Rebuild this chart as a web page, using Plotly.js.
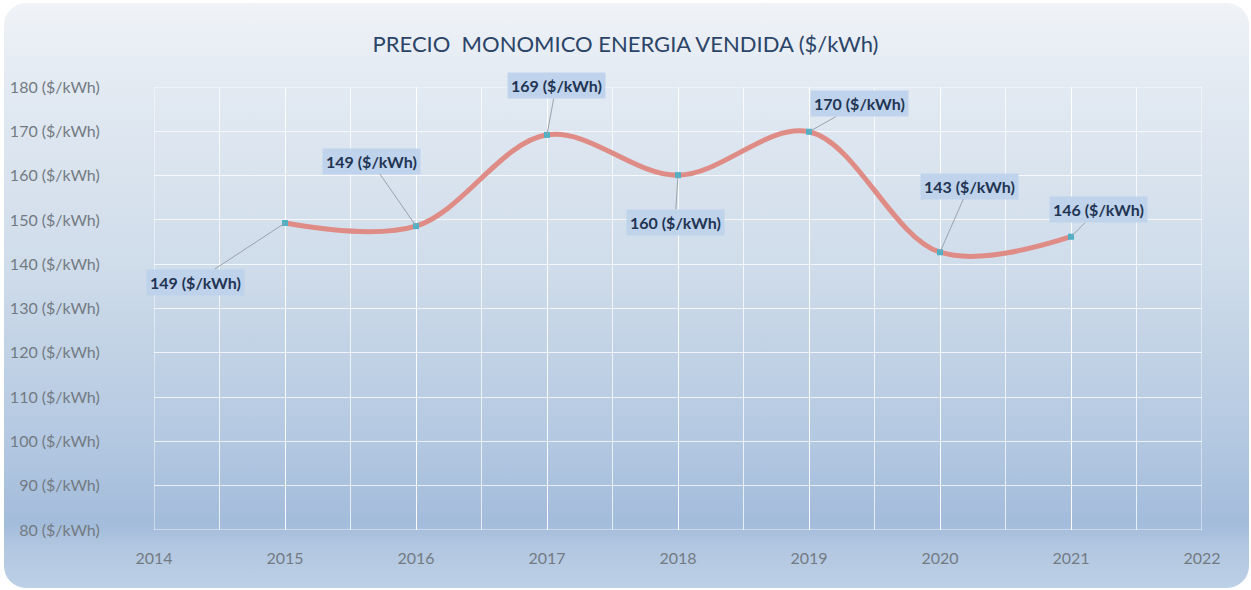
<!DOCTYPE html>
<html>
<head>
<meta charset="utf-8">
<script src="https://cdn.plot.ly/plotly-3.0.1.min.js"></script>
<style>
  html, body { margin: 0; padding: 0; background: #ffffff; }
  #frame {
    position: absolute; left: 4px; top: 3px; width: 1245px; height: 585px;
    border-radius: 22px; overflow: hidden;
    background: linear-gradient(to bottom, #f0f3f7 0%, #e4ebf3 12%, #cfdcea 45%, #b3c8e1 75%, #a3bcdb 89%, #b2c7e0 93%, #bcd0e6 100%);
  }
  #chart { position: absolute; left: 0; top: 0; width: 1251px; height: 590px; }
</style>
</head>
<body>
<div id="frame"></div>
<div id="chart"></div>
<script>
const years = [2015, 2016, 2017, 2018, 2019, 2020, 2021];
const prices = [149.3, 148.6, 169.2, 160.1, 169.9, 142.7, 146.2];
const yTickVals = [80, 90, 100, 110, 120, 130, 140, 150, 160, 170, 180];
const yTickText = yTickVals.map(v => v + ' ($/kWh)');
const xTickVals = [2014, 2015, 2016, 2017, 2018, 2019, 2020, 2021, 2022];
const labelOffsets = [[-90, 59], [-45, -65], [9, -49], [-3, 47], [50, -28], [29, -66], [27, -27]];

const GRID = 'rgba(255,255,255,0.75)';

const trace = {
  x: years, y: prices, type: 'scatter', mode: 'lines+markers',
  line: { shape: 'spline', smoothing: 1.0, color: '#df8c87', width: 5 },
  marker: { symbol: 'square', size: 6, color: '#4fb0c6' },
  hoverinfo: 'x+y'
};

const annotations = years.map((yr, i) => ({
  x: yr, y: prices[i], xref: 'x', yref: 'y',
  text: '<b>' + Math.round(prices[i]) + ' ($/kWh)</b>',
  showarrow: true, arrowhead: 0, arrowwidth: 1, arrowcolor: '#9aa3ad',
  ax: labelOffsets[i][0], ay: labelOffsets[i][1],
  bgcolor: 'rgba(190,210,235,0.95)', borderpad: 3,
  font: { family: 'Lato, "Open Sans", sans-serif', size: 16, color: '#1f3553' }
}));

const edgeShapes = [
  { type: 'line', xref: 'x', yref: 'paper', x0: 2014, x1: 2014, y0: 0, y1: 1 },
  { type: 'line', xref: 'x', yref: 'paper', x0: 2022, x1: 2022, y0: 0, y1: 1 },
  { type: 'line', xref: 'paper', yref: 'y', x0: 0, x1: 1, y0: 80, y1: 80 },
  { type: 'line', xref: 'paper', yref: 'y', x0: 0, x1: 1, y0: 180, y1: 180 }
].map(s => Object.assign(s, { layer: 'below', line: { color: GRID, width: 1.2 } }));

const layout = {
  width: 1251, height: 590,
  paper_bgcolor: 'rgba(0,0,0,0)', plot_bgcolor: 'rgba(0,0,0,0)',
  margin: { l: 154, r: 49, t: 87, b: 60 },
  title: {
    text: 'PRECIO  MONOMICO ENERGIA VENDIDA ($/kWh)',
    x: 0.5, xanchor: 'center', y: 0.925, yanchor: 'middle',
    font: { family: 'Lato, "Open Sans", sans-serif', size: 22, color: '#2b4468' }
  },
  xaxis: {
    range: [2014, 2022], tickvals: xTickVals, ticktext: xTickVals.map(String),
    showgrid: true, gridcolor: GRID, gridwidth: 1.2,
    minor: { dtick: 0.5, tick0: 2014, showgrid: true, gridcolor: GRID, gridwidth: 1.2 },
    zeroline: false, showline: false,
    ticks: 'outside', ticklen: 14, tickcolor: 'rgba(0,0,0,0)',
    tickfont: { family: 'Lato, "Open Sans", sans-serif', size: 16, color: '#737a82' },
    fixedrange: true
  },
  yaxis: {
    range: [80, 180], tickvals: yTickVals, ticktext: yTickText,
    showgrid: true, gridcolor: GRID, gridwidth: 1.2,
    zeroline: false, showline: false,
    ticks: 'outside', ticklen: 50, tickcolor: 'rgba(0,0,0,0)',
    tickfont: { family: 'Lato, "Open Sans", sans-serif', size: 16, color: '#737a82' },
    fixedrange: true
  },
  shapes: edgeShapes,
  annotations: annotations,
  showlegend: false
};

Plotly.newPlot('chart', [trace], layout, { displayModeBar: false });
</script>
</body>
</html>
